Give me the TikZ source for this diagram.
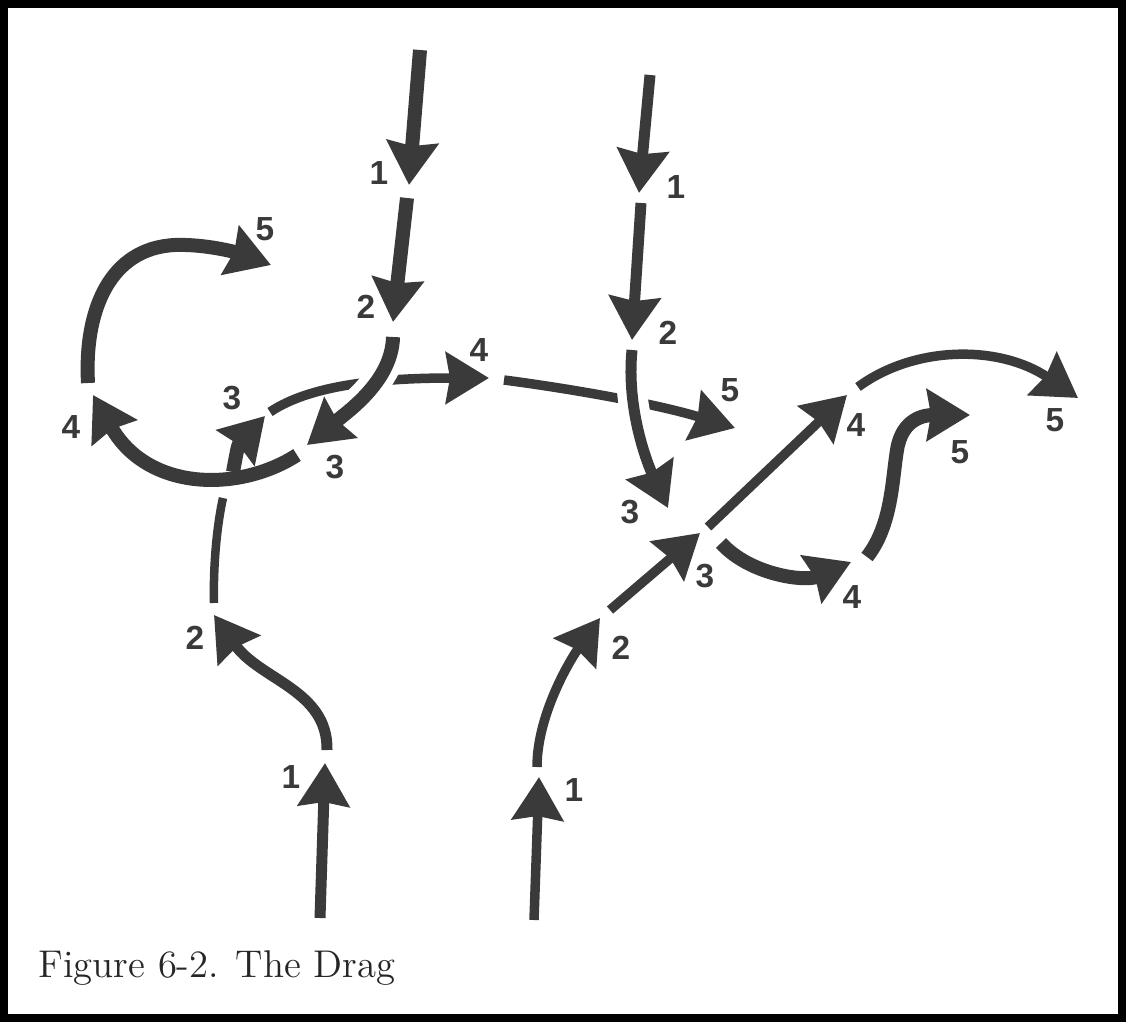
\documentclass[tikz,border=0pt]{standalone}
\usepackage{fontspec}
\setsansfont{Liberation Sans}
\usetikzlibrary{arrows.meta, positioning}
\definecolor{playgrey}{RGB}{58,58,58}

\tikzset{
  route/.style={draw=playgrey, line width=1.1mm, line cap=butt,
    -{Stealth[length=4.3mm, width=5.1mm, inset=0.4mm]}},
  heavy/.style={route, line width=1.4mm},
  light/.style={route, line width=0.95mm},
  leg/.style={draw=playgrey, line width=0.85mm},
  over/.style={preaction={draw=white, -, line width=3mm}},
  num/.style={font=\sffamily\bfseries\fontsize{9.5}{11}\selectfont, text=playgrey, inner sep=0pt},
}

\begin{document}
\begin{tikzpicture}[x=0.1mm, y=-0.1mm]
  \useasboundingbox (0,0) rectangle (1126,1022);
  \draw[line width=0.75mm] (4,4) rectangle (1122,1018);

  % top left column
  \coordinate (tl0) at (420,50);   \coordinate (tl1) at (409,185);
  \coordinate (tl1b) at (407,198); \coordinate (tl2) at (393,322);
  \coordinate (tl2b) at (393,337); \coordinate (tl3) at (307,445);
  \coordinate (tl3b) at (297,455); \coordinate (tl4) at (93,395);
  \coordinate (tl4b) at (88,383);  \coordinate (tl5) at (271,265);

  % bottom left column
  \coordinate (bl0) at (320,918);  \coordinate (bl1) at (325,763);
  \coordinate (bl1b) at (327,750); \coordinate (bl2) at (214,615);
  \coordinate (bl2b) at (214,603); \coordinate (blx) at (223,498);
  \coordinate (bly) at (233,472);  \coordinate (bl3) at (265,416);
  \coordinate (bl3b) at (270,412); \coordinate (bl4) at (489,378);
  \coordinate (bl4b) at (504,380); \coordinate (bl5) at (735,428);

  % top right column
  \coordinate (tr0) at (650,75);   \coordinate (tr1) at (639,193);
  \coordinate (tr1b) at (641,203); \coordinate (tr2) at (632,340);
  \coordinate (tr2b) at (632,350); \coordinate (tr3) at (668,508);

  % bottom right column
  \coordinate (br0) at (534,920);  \coordinate (br1) at (539,777);
  \coordinate (br1b) at (537,767); \coordinate (br2) at (600,618);
  \coordinate (br2b) at (610,610); \coordinate (br3) at (700,533);
  \coordinate (br3b) at (708,527); \coordinate (br4) at (847,395);
  \coordinate (br4b) at (858,387); \coordinate (br5) at (1078,398);
  \coordinate (br3c) at (721,543); \coordinate (br4c) at (851,562);
  \coordinate (br4d) at (867,557); \coordinate (br5d) at (970,415);

  % paths that pass underneath
  \draw[light] (bl3b) .. controls (310,385) and (380,378) .. (bl4);
  \draw[light] (bl4b) .. controls (580,390) and (660,405) .. (bl5);
  \draw[leg] (bl2b) .. controls (213,560) and (218,520) .. (blx);

  % top left
  \draw[heavy] (tl0) -- (tl1);
  \draw[heavy] (tl1b) -- (tl2);
  \draw[heavy, over] (tl2b) .. controls (392,380) and (350,410) .. (tl3);
  \draw[heavy] (tl3b) .. controls (240,492) and (148,492) .. (tl4);
  \draw[heavy] (tl4b) .. controls (84,310) and (110,248) .. (175,245)
    .. controls (205,244) and (235,252) .. (tl5);

  % top right
  \draw[route] (tr0) -- (tr1);
  \draw[route] (tr1b) -- (tr2);
  \draw[route, over] (tr2b) .. controls (626,410) and (648,465) .. (tr3);

  % bottom left
  \draw[route] (bl0) -- (bl1);
  \draw[route] (bl1b) .. controls (328,690) and (260,680) .. (bl2);
  \draw[heavy] (bly) .. controls (238,445) .. (bl3);

  % bottom right
  \draw[light] (br0) -- (br1);
  \draw[light] (br1b) .. controls (537,715) and (570,660) .. (br2);
  \draw[light] (br2b) -- (br3);
  \draw[light] (br3b) -- (br4);
  \draw[light] (br4b) .. controls (915,345) and (1000,345) .. (br5);
  \draw[heavy] (br3c) .. controls (750,575) and (805,582) .. (br4c);
  \draw[heavy] (br4d) .. controls (892,525) and (892,480) .. (897,450)
    .. controls (902,418) and (925,415) .. (br5d);

  % numbers
  \node[num] (tl1n) at (379,173) {1};
  \node[num] (tl2n) at (366,307) {2};
  \node[num] (tl3n) at (335,467) {3};
  \node[num] (tl4n) at (71,427) {4};
  \node[num] (tl5n) at (265,229) {5};
  \node[num] (bl1n) at (291,777) {1};
  \node[num] (bl2n) at (195,638) {2};
  \node[num] (bl3n) at (232,398) {3};
  \node[num] (bl4n) at (479,350) {4};
  \node[num] (bl5n) at (730,390) {5};
  \node[num] (tr1n) at (676,187) {1};
  \node[num] (tr2n) at (668,333) {2};
  \node[num] (tr3n) at (630,512) {3};
  \node[num] (br1n) at (574,790) {1};
  \node[num] (br2n) at (621,648) {2};
  \node[num] (br3n) at (705,576) {3};
  \node[num] (br4n) at (856,425) {4};
  \node[num] (br5n) at (1055,420) {5};
  \node[num] (br4m) at (852,597) {4};
  \node[num] (br5m) at (960,452) {5};

  \node[anchor=base west, font=\fontsize{11}{13}\selectfont, text=black!85, inner sep=0pt]
    (caption) at (38,977) {Figure 6-2. The Drag};
\end{tikzpicture}
\end{document}
